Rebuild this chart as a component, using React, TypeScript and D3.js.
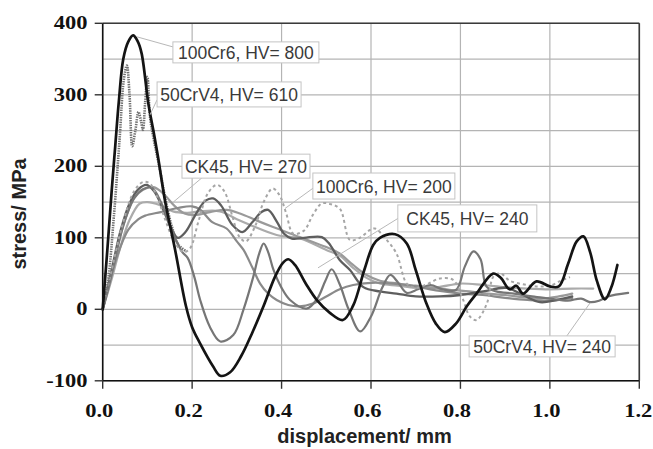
import React from 'react';
import * as d3 from 'd3';

type P = [number, number];

const xTicks = [0, 0.2, 0.4, 0.6, 0.8, 1.0, 1.2];
const yTicks = [-100, 0, 100, 200, 300, 400];
const yGridValues = [-100, -50, 0, 50, 100, 150, 200, 250, 300, 350, 400];

// 100Cr6, HV = 800 (thick black)
const cr6_800: P[] = [[0,0],[0.01,80],[0.02,165],[0.028,228],[0.036,290],[0.046,350],[0.057,374],[0.068,383],[0.078,375],[0.087,358],[0.102,288],[0.113,251],[0.124,212],[0.139,153],[0.162,83],[0.186,5],[0.2,-25],[0.218,-48],[0.247,-80],[0.263,-93],[0.285,-88],[0.31,-65],[0.335,-32],[0.36,5],[0.385,45],[0.403,65],[0.415,70],[0.43,62],[0.455,35],[0.48,12],[0.508,-5],[0.537,-15],[0.56,5],[0.585,55],[0.605,90],[0.62,100],[0.654,105],[0.68,92],[0.70,55],[0.724,8],[0.745,-20],[0.765,-32],[0.79,-20],[0.815,5],[0.836,22],[0.873,50],[0.89,44],[0.91,28],[0.925,33],[0.94,22],[0.97,39],[1.0,32],[1.02,32],[1.041,64],[1.06,95],[1.075,102],[1.09,80],[1.105,40],[1.123,14],[1.137,30],[1.151,62]];

// 50CrV4, HV = 610 (dotted)
const crv4_610: P[] = [[0,0],[0.012,40],[0.025,130],[0.038,240],[0.047,320],[0.054,341],[0.06,300],[0.066,228],[0.073,250],[0.08,276],[0.086,262],[0.09,251],[0.095,290],[0.1,325],[0.106,268],[0.115,235],[0.128,195],[0.14,155],[0.155,115],[0.17,90],[0.185,82]];

// 100Cr6, HV = 200 (dashed light)
const cr6_200: P[] = [[0,0],[0.02,55],[0.045,120],[0.07,165],[0.09,178],[0.105,176],[0.12,160],[0.14,125],[0.16,95],[0.18,80],[0.195,85],[0.215,125],[0.235,162],[0.255,174],[0.272,165],[0.29,130],[0.305,102],[0.32,95],[0.34,115],[0.36,150],[0.38,169],[0.395,160],[0.41,135],[0.426,106],[0.45,110],[0.47,132],[0.49,148],[0.51,147],[0.531,140],[0.553,97],[0.575,100],[0.598,111],[0.609,113],[0.635,97],[0.657,78],[0.68,36],[0.7,30],[0.725,35],[0.754,43],[0.784,41],[0.805,15],[0.821,-10],[0.836,-15],[0.859,8],[0.874,46],[0.89,50],[0.91,40],[0.94,35],[0.97,32],[1.0,33],[1.025,40],[1.045,45]];

// CK45, HV = 270 (dark grey)
const ck45_270: P[] = [[0,0],[0.02,55],[0.04,110],[0.06,148],[0.08,168],[0.098,174],[0.115,165],[0.135,140],[0.152,115],[0.168,100],[0.185,108],[0.21,135],[0.23,152],[0.247,155],[0.265,145],[0.29,118],[0.312,108],[0.335,122],[0.355,136],[0.37,139],[0.39,122],[0.405,106],[0.423,99],[0.45,100],[0.49,101],[0.505,93],[0.53,69],[0.553,55],[0.583,31],[0.62,25],[0.657,22],[0.70,18],[0.754,18],[0.80,20],[0.851,25],[0.903,30],[0.94,20],[0.978,10],[1.015,13],[1.05,18]];

// 50CrV4, HV = 240 (medium grey)
const crv4_240: P[] = [[0,0],[0.02,50],[0.045,115],[0.07,155],[0.09,168],[0.11,170],[0.13,150],[0.15,118],[0.165,95],[0.178,80],[0.19,72],[0.205,45],[0.218,13],[0.24,-25],[0.263,-45],[0.292,-36],[0.315,0],[0.337,46],[0.35,78],[0.36,92],[0.37,80],[0.382,55],[0.40,30],[0.419,13],[0.456,1],[0.48,15],[0.498,40],[0.512,56],[0.53,35],[0.55,0],[0.576,-31],[0.6,-10],[0.625,30],[0.643,48],[0.66,38],[0.68,23],[0.705,28],[0.733,34],[0.76,28],[0.79,27],[0.81,60],[0.829,81],[0.845,70],[0.858,32],[0.88,25],[0.92,22],[0.96,18],[1.0,15],[1.04,12],[1.07,15],[1.09,10],[1.11,12],[1.13,18],[1.175,23]];

// CK45, HV = 240 (light grey)
const ck45_240: P[] = [[0,0],[0.02,42],[0.04,88],[0.06,125],[0.083,148],[0.1,150],[0.127,146],[0.157,137],[0.19,135],[0.217,137],[0.262,137],[0.3,126],[0.33,118],[0.389,104],[0.441,99],[0.5,83],[0.53,75],[0.56,58],[0.59,44],[0.62,36],[0.66,33],[0.7,30],[0.75,31],[0.8,36],[0.85,34],[0.9,31],[0.95,29],[1.0,28],[1.05,29],[1.097,29]];

// further grey curves
const greyA: P[] = [[0,0],[0.02,50],[0.045,115],[0.07,155],[0.09,167],[0.113,171],[0.13,165],[0.143,157],[0.16,145],[0.183,134],[0.207,132],[0.24,136],[0.277,139],[0.307,134],[0.345,124],[0.381,115],[0.441,101],[0.5,87],[0.53,78],[0.56,62],[0.59,48],[0.62,40],[0.66,36],[0.7,33],[0.74,30],[0.78,27],[0.82,25],[0.86,22],[0.9,20],[0.94,17],[0.98,15],[1.02,18],[1.05,22]];
const greyB: P[] = [[0,0],[0.012,27],[0.03,70],[0.057,111],[0.08,126],[0.095,131],[0.13,136],[0.17,142],[0.2,144],[0.217,140],[0.245,122],[0.277,113],[0.3,95],[0.315,83],[0.335,58],[0.352,36],[0.37,22],[0.389,13],[0.415,6],[0.44,4],[0.47,8],[0.5,18],[0.53,28],[0.56,34],[0.6,37],[0.65,36],[0.7,32],[0.75,26],[0.8,22],[0.85,20],[0.9,16],[0.95,13],[1.0,12],[1.05,16]];

const series = [
  { key: 'ck45_240', data: ck45_240, color: '#ababab', width: 2.2, dash: '' },
  { key: 'greyA', data: greyA, color: '#9a9a9a', width: 2.2, dash: '' },
  { key: 'greyB', data: greyB, color: '#8a8a8a', width: 2.2, dash: '' },
  { key: 'ck45_270', data: ck45_270, color: '#5e5e5e', width: 2.3, dash: '' },
  { key: 'crv4_240', data: crv4_240, color: '#767676', width: 2.2, dash: '' },
  { key: 'cr6_200', data: cr6_200, color: '#a6a6a6', width: 2, dash: '3 3' },
  { key: 'crv4_610', data: crv4_610, color: '#707070', width: 2.6, dash: '1.4 1' },
  { key: 'cr6_800', data: cr6_800, color: '#141414', width: 2.7, dash: '' },
];

const annotations = [
  { label: '100Cr6, HV= 800', box: [0.157, 374] as P, w: 146, h: 21, from: [0.157, 367] as P, to: [0.077, 381] as P },
  { label: '50CrV4, HV= 610', box: [0.1216, 318] as P, w: 144, h: 25, from: [0.1216, 293] as P, to: [0.1058, 272] as P },
  { label: 'CK45, HV= 270', box: [0.1773, 217] as P, w: 128, h: 24, from: [0.222, 184] as P, to: [0.158, 150] as P },
  { label: '100Cr6, HV= 200', box: [0.47, 190.6] as P, w: 142, h: 26, from: [0.475, 171.5] as P, to: [0.4077, 141] as P },
  { label: 'CK45, HV= 240', box: [0.66, 146] as P, w: 139, h: 27, from: [0.6626, 128] as P, to: [0.4815, 58] as P },
  { label: '50CrV4, HV= 240', box: [0.8194, -37.2] as P, w: 146, h: 21, from: [1.038, -37.2] as P, to: [1.09, 9] as P },
];

export default function App() {
  const x = d3.scaleLinear().domain([0, 1.2]).range([102.7, 639.3]);
  const y = d3.scaleLinear().domain([-100, 400]).range([380.8, 23.3]);
  const line = d3.line<P>().x(d => x(d[0])).y(d => y(d[1])).curve(d3.curveCatmullRom.alpha(0.5));
  const [x0, x1] = x.range();
  const [yb, yt] = y.range();
  const serif = '"Liberation Serif", "Times New Roman", serif';
  const sans = '"Liberation Sans", Arial, sans-serif';

  return (
    <div style={{ position: 'absolute', left: 0, top: 0 }}>
      <svg width={653} height={449} style={{ display: 'block', background: '#fff' }}>
        <rect x={0} y={0} width={653} height={449} fill="#fff" />
        {yGridValues.map(v => (
          <line key={'gy' + v} x1={x0} x2={x1} y1={y(v)} y2={y(v)} stroke="#b4b4b4" strokeWidth={1.2} />
        ))}
        {xTicks.map(v => (
          <line key={'gx' + v} x1={x(v)} x2={x(v)} y1={yt} y2={yb} stroke="#b4b4b4" strokeWidth={1.2} />
        ))}
        {series.map(s => (
          <path key={s.key} d={line(s.data) || ''} fill="none" stroke={s.color} strokeWidth={s.width}
            strokeDasharray={s.dash || undefined} strokeLinejoin="round" strokeLinecap={s.dash ? 'butt' : 'round'} />
        ))}
        {annotations.map(a => (
          <line key={'l' + a.label} x1={x(a.from[0])} y1={y(a.from[1])} x2={x(a.to[0])} y2={y(a.to[1])} stroke="#b8b8b8" strokeWidth={1} />
        ))}
        {annotations.map(a => {
          const bx = x(a.box[0]);
          const by = y(a.box[1]);
          return (
            <g key={'b' + a.label}>
              <rect x={bx} y={by} width={a.w} height={a.h} fill="#fff" stroke="#c4c4c4" strokeWidth={1} />
              <text x={bx + a.w / 2} y={by + a.h / 2 + 6.5} textAnchor="middle" fontFamily={sans} fontSize={17.5} fill="#3a3a3a">{a.label}</text>
            </g>
          );
        })}
        {/* frame */}
        <line x1={x0} x2={x1} y1={yt} y2={yt} stroke="#3a3a3a" strokeWidth={1.6} />
        <line x1={x1} x2={x1} y1={yt} y2={yb} stroke="#3a3a3a" strokeWidth={1.6} />
        <line x1={x0} x2={x0} y1={yt} y2={yb} stroke="#111" strokeWidth={1.6} />
        <line x1={x0} x2={x1} y1={yb} y2={yb} stroke="#111" strokeWidth={1.6} />
        {yTicks.map(v => (
          <g key={'ty' + v}>
            <line x1={x0 - 8} x2={x0} y1={y(v)} y2={y(v)} stroke="#333" strokeWidth={1.4} />
            <g transform={`translate(87.5,${y(v) + 6}) scale(1.25,1)`}>
              <text x={0} y={0} textAnchor="end" fontFamily={serif} fontWeight="bold" fontSize={18} fill="#111">{v}</text>
            </g>
          </g>
        ))}
        {xTicks.map((v, i) => (
          <g key={'tx' + v}>
            <line x1={x(v)} x2={x(v)} y1={yb} y2={yb + 8} stroke="#333" strokeWidth={1.4} />
            <g transform={`translate(${i === xTicks.length - 1 ? x(v) - 1 : x(v) - 3.5},417) scale(1.25,1)`}>
              <text x={0} y={0} textAnchor="middle" fontFamily={serif} fontWeight="bold" fontSize={18} fill="#111">{v.toFixed(1)}</text>
            </g>
          </g>
        ))}
        <text transform="translate(26,214) rotate(-90)" textAnchor="middle" fontFamily={sans} fontWeight="bold" fontSize={20} fill="#222">stress/ MPa</text>
        <text x={364.5} y={443} textAnchor="middle" fontFamily={sans} fontWeight="bold" fontSize={20} fill="#222">displacement/ mm</text>
      </svg>
    </div>
  );
}
